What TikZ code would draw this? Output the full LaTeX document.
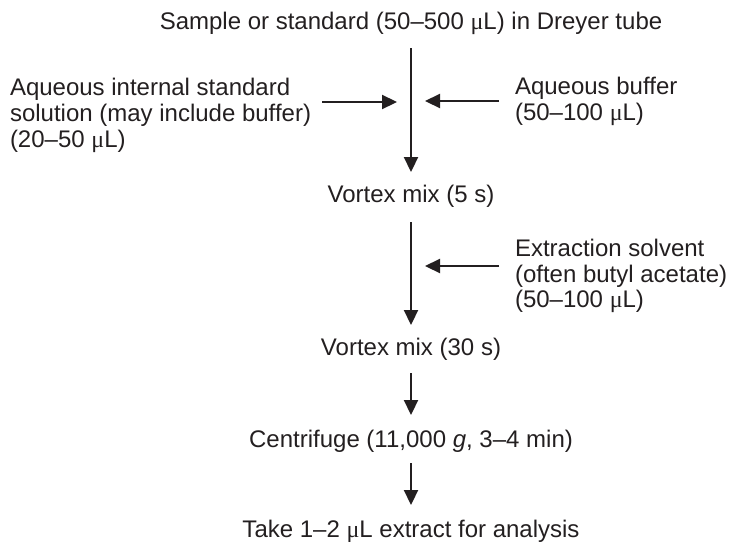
\documentclass[tikz,border=0pt]{standalone}
\usepackage{fontspec}
\setmainfont{Liberation Sans}
\newfontfamily\mufont{Liberation Serif}
\usetikzlibrary{arrows.meta}
\definecolor{ink}{RGB}{35,31,32}
\newcommand{\uL}{{\mufont μ}L}
\begin{document}
\begin{tikzpicture}[x=1pt,y=-1pt,
  every node/.style={inner sep=0pt,outer sep=0pt,text=ink,font=\fontsize{24}{26}\selectfont},
  stepnode/.style={anchor=base,text height=17pt,text depth=5pt},
  sidetext/.style={anchor=base west},
  arr/.style={draw=ink,line width=2.2pt,-{Triangle[length=15pt,width=14pt]}}]
\useasboundingbox (0,0) rectangle (730,541);
% main steps
\node[stepnode] (top) at (411,29) {Sample or standard (50–500 \uL) in Dreyer tube};
\node[stepnode] (vm1) at (411,202) {Vortex mix (5 s)};
\node[stepnode] (vm2) at (411,355) {Vortex mix (30 s)};
\node[stepnode] (cf) at (411,447) {Centrifuge (11,000 \textit{g}, 3–4 min)};
\node[stepnode] (tk) at (411,537) {Take 1–2 \uL\ extract for analysis};
% side texts
\node[sidetext] (is1) at (10,95) {Aqueous internal standard};
\node[sidetext] (is2) at (10,121) {solution (may include buffer)};
\node[sidetext] (is3) at (10,147) {(20–50 \uL)};
\node[sidetext] (ab1) at (515,94) {Aqueous buffer};
\node[sidetext] (ab2) at (515,120) {(50–100 \uL)};
\node[sidetext] (es1) at (515,256) {Extraction solvent};
\node[sidetext] (es2) at (515,282) {(often butyl acetate)};
\node[sidetext] (es3) at (515,307) {(50–100 \uL)};
% vertical connectors
\draw[arr,shorten <=14pt,shorten >=13pt] (top.south) -- (vm1.north);
\draw[arr,shorten <=15pt,shorten >=13pt] (vm1.south) -- (vm2.north);
\draw[arr,shorten <=13pt,shorten >=15pt] (vm2.south) -- (cf.north);
\draw[arr,shorten <=11pt,shorten >=15pt] (cf.south) -- (tk.north);
% horizontal connectors
\coordinate (isa) at (322,102);
\coordinate (isb) at (397,102);
\coordinate (aba) at (499,101);
\coordinate (abb) at (425,101);
\coordinate (esa) at (499,266);
\coordinate (esb) at (425,266);
\draw[arr] (isa) -- (isb);
\draw[arr] (aba) -- (abb);
\draw[arr] (esa) -- (esb);
\end{tikzpicture}
\end{document}
